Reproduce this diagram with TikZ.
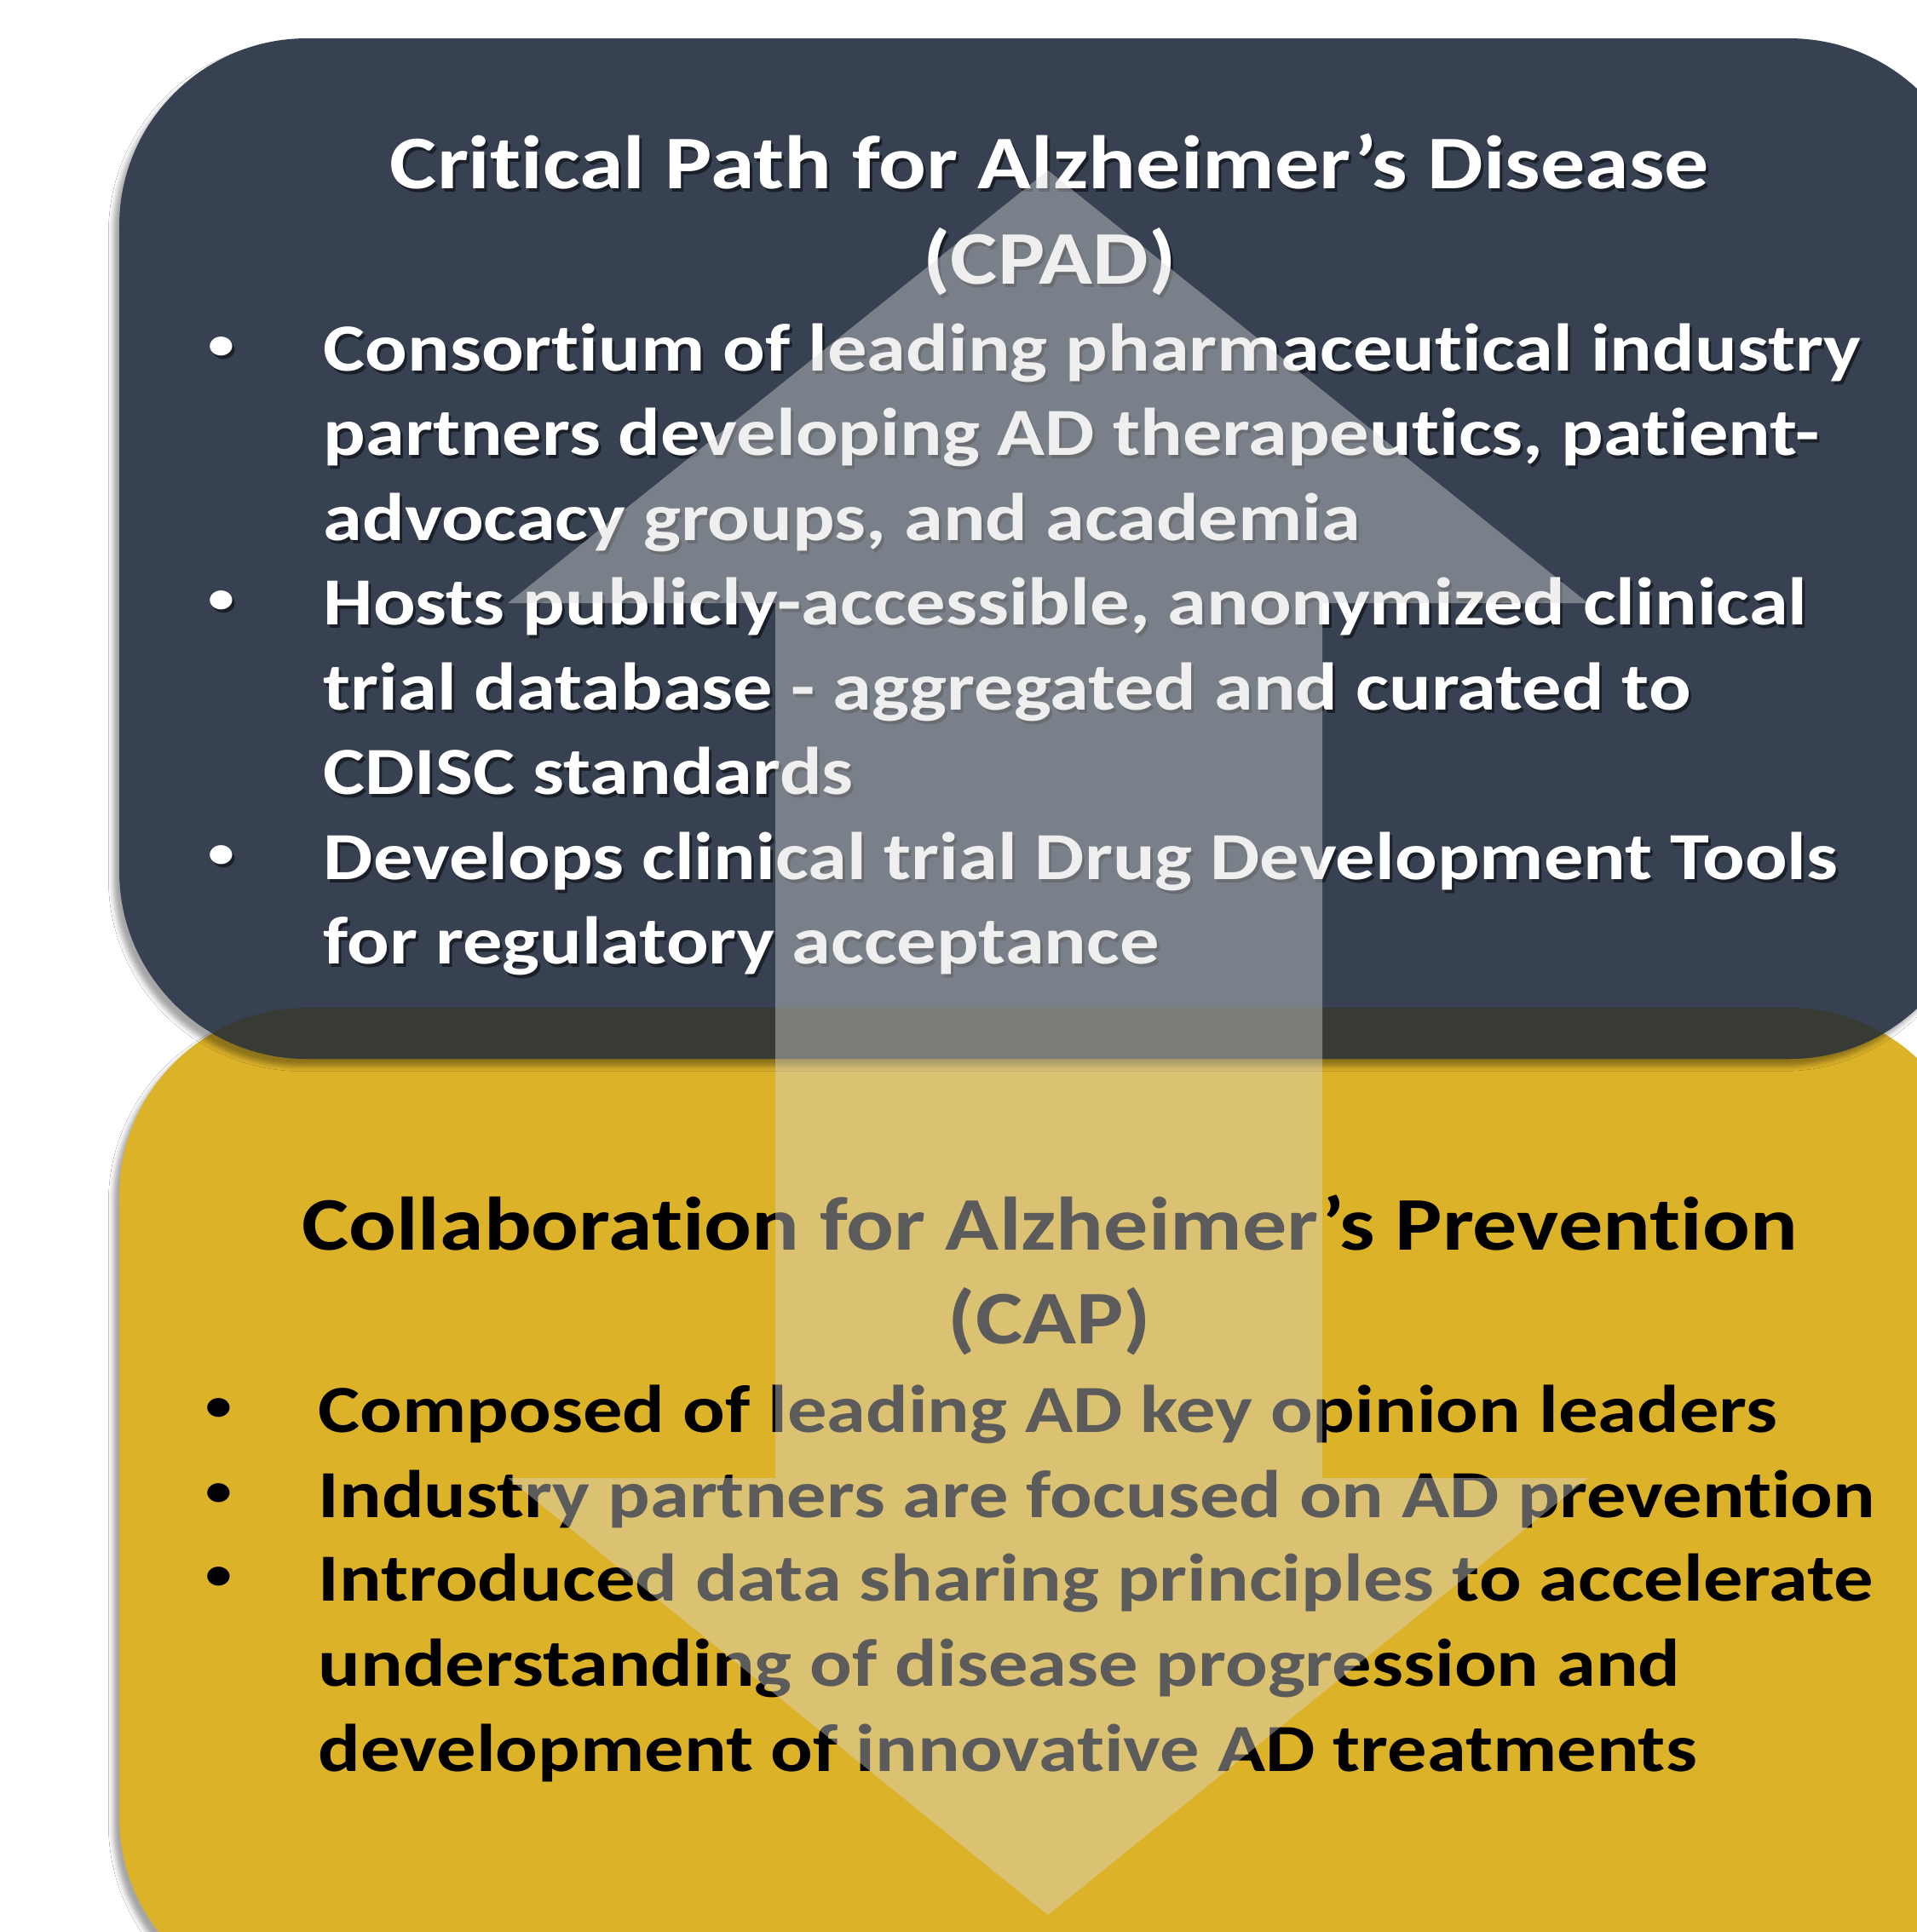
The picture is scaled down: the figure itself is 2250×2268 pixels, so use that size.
\documentclass[tikz,border=0pt]{standalone}
\usepackage{fontspec}
\setmainfont{Carlito}[BoldFont={Carlito Bold}, FakeStretch=1.17, Ligatures=NoCommon]
\usetikzlibrary{shadows.blur}
\definecolor{navy}{RGB}{55,65,81}
\definecolor{gold}{RGB}{220,178,41}
\definecolor{olive}{RGB}{56,59,51}
\definecolor{arrowgrey}{RGB}{217,217,217}
\tikzset{
  boxshadow/.style={blur shadow={shadow xshift=-2pt, shadow yshift=-2.5pt, shadow blur radius=1.6pt, shadow opacity=35}},
  titleW/.style={font=\bfseries\fontsize{25.3}{30}\selectfont, text=white, anchor=base, inner sep=0pt},
  titleB/.style={font=\bfseries\fontsize{25.3}{30}\selectfont, text=black, anchor=base, inner sep=0pt},
  bodyW/.style={font=\bfseries\fontsize{22.5}{27}\selectfont, text=white, anchor=base west, inner sep=0pt},
  bodyB/.style={font=\bfseries\fontsize{22.5}{27}\selectfont, text=black, anchor=base west, inner sep=0pt},
  bulW/.style={font=\bfseries\fontsize{15}{18}\selectfont, text=white, anchor=center, inner sep=0pt},
  bulB/.style={font=\bfseries\fontsize{15}{18}\selectfont, text=black, anchor=center, inner sep=0pt},
  bigarrow/.style={fill=arrowgrey, fill opacity=0.42, draw=none}
}
% shadowed text: name, x, y, style, text
\newcommand{\shtext}[5]{%
  \node[#4, text=black, text opacity=0.5] at (#2+3,#3+4) {#5};
  \node[#4] (#1) at (#2,#3) {#5};
}
\begin{document}
\begin{tikzpicture}[x=0.01cm,y=-0.01cm]
\useasboundingbox (0,0) rectangle (2250,2268);
\clip (0,0) rectangle (2250,2268);
\fill[white] (0,0) rectangle (2250,2268);

% boxes
\fill[gold, rounded corners=2.2cm, boxshadow] (140,1183) rectangle (2320,2353);
\fill[navy, rounded corners=2.2cm, boxshadow] (140,45) rectangle (2320,1243);
\begin{scope}
  \clip[rounded corners=2.2cm] (140,1183) rectangle (2320,2353);
  \fill[olive, rounded corners=2.2cm] (140,45) rectangle (2320,1243);
\end{scope}

% top box texts
\shtext{ttl1}{1232}{221}{titleW}{Critical Path for Alzheimer’s Disease}
\shtext{ttl2}{1232}{333}{titleW}{(CPAD)}
\shtext{b1}{260}{409}{bulW}{•}
\shtext{l1}{379}{435}{bodyW}{Consortium of leading pharmaceutical industry}
\shtext{l2}{379}{534}{bodyW}{partners developing AD therapeutics, patient-}
\shtext{l3}{379}{634}{bodyW}{advocacy groups, and academia}
\shtext{b2}{260}{707}{bulW}{•}
\shtext{l4}{379}{733}{bodyW}{Hosts publicly-accessible, anonymized clinical}
\shtext{l5}{379}{833}{bodyW}{trial database - aggregated and curated to}
\shtext{l6}{379}{932}{bodyW}{CDISC standards}
\shtext{b3}{260}{1006}{bulW}{•}
\shtext{l7}{379}{1032}{bodyW}{Develops clinical trial Drug Development Tools}
\shtext{l8}{379}{1131}{bodyW}{for regulatory acceptance}

% bottom box texts
\node[titleB] (ctl1) at (1232,1467) {Collaboration for Alzheimer’s Prevention};
\node[titleB] (ctl2) at (1232,1577) {(CAP)};
\node[bulB] (cb1) at (257,1655) {•};
\node[bodyB] (m1) at (373,1681) {Composed of leading AD key opinion leaders};
\node[bulB] (cb2) at (257,1755) {•};
\node[bodyB] (m2) at (373,1781) {Industry partners are focused on AD prevention};
\node[bulB] (cb3) at (257,1853) {•};
\node[bodyB] (m3) at (373,1879) {Introduced data sharing principles to accelerate};
\node[bodyB] (m4) at (373,1979) {understanding of disease progression and};
\node[bodyB] (m5) at (373,2079) {development of innovative AD treatments};

% double arrow overlay
\fill[bigarrow] (1230,200) -- (1864,708) -- (1552,708) -- (1552,1735) -- (1864,1735)
  -- (1230,2248) -- (596,1735) -- (910,1735) -- (910,708) -- (596,708) -- cycle;
\end{tikzpicture}
\end{document}
